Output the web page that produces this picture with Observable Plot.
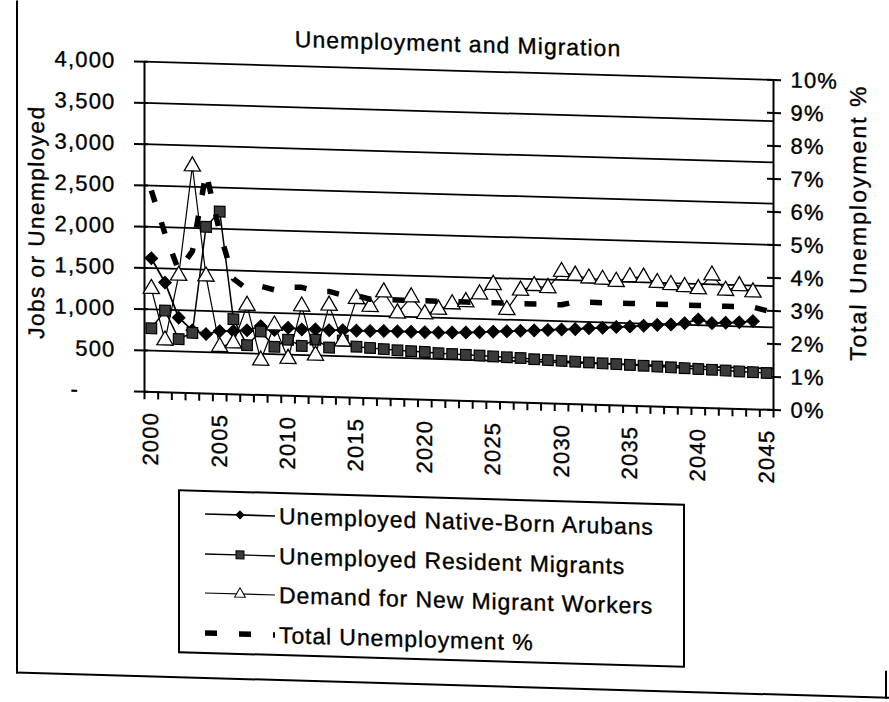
<!DOCTYPE html>
<html>
<head>
<meta charset="utf-8">
<script src="https://cdn.jsdelivr.net/npm/d3@7"></script>
<script src="https://cdn.jsdelivr.net/npm/@observablehq/plot@0.6"></script>
<style>
  html, body { margin: 0; padding: 0; background: #fff; }
  #page { position: relative; width: 889px; height: 702px; overflow: hidden;
          font-family: "Liberation Sans", Arial, sans-serif; color: #000; background: #fff; }
  #sheet { position: absolute; left: 0; top: 0; width: 889px; height: 702px;
           transform-origin: 0 0; transform: skewY(1.66deg); }
  #chart { position: absolute; left: 0; top: 0; }
  #chart svg text { letter-spacing: 1.2px; stroke: #000; stroke-width: 0.35px; }
  .txt { -webkit-text-stroke: 0.35px #000; }
  .title { position: absolute; left: 458px; top: 31px; transform: translate(-50%, -50%);
           font-size: 23px; letter-spacing: 1px; white-space: nowrap; }
  .ytitle { position: absolute; white-space: nowrap; transform: translate(-50%, -50%) rotate(-90deg); }
  #ylab { left: 37px; top: 221px; font-size: 22.5px; letter-spacing: 1.5px; }
  #y2lab { left: 858px; top: 198px; font-size: 23px; letter-spacing: 2px; }
  #legend { position: absolute; left: 178px; top: 484px; width: 507px; height: 164px;
            box-sizing: border-box; border: 2px solid #000; background: #fff; }
  .lrow { position: absolute; left: 0; height: 30px; display: flex; align-items: center; }
  .lrow svg { margin-left: 23px; }
  .lrow span { margin-left: 4px; font-size: 23px; letter-spacing: 0.9px; white-space: nowrap; }
  .frame { position: absolute; background: #000; }
</style>
</head>
<body>
<div id="page">
  <div id="sheet">
    <div class="frame" style="left:16px;top:0;width:2px;height:673px;"></div>
    <div class="frame" style="left:16px;top:671px;width:880px;height:2px;"></div>
    <div class="frame" style="left:885px;top:645px;width:1.5px;height:28px;"></div>
    <div id="chart"></div>
    <div class="title txt">Unemployment and Migration</div>
    <div class="ytitle txt" id="ylab">Jobs or Unemployed</div>
    <div class="ytitle txt" id="y2lab">Total Unemployment %</div>
    <div id="legend"></div>
  </div>
</div>
<script>
// ---------------- data ----------------
const years = d3.range(2000, 2046);            // 2000 … 2045
const labelYears = d3.range(2000, 2046, 5);     // x tick labels
const yTicks = d3.range(0, 4001, 500);          // left axis: jobs or unemployed
const pctTicks = d3.range(0, 11);               // right axis: 0% … 10%

const seriesNames = [
  "Unemployed Native-Born Arubans",
  "Unemployed Resident Migrants",
  "Demand for New Migrant Workers",
  "Total Unemployment %"
];

// Unemployed Native-Born Arubans, 2000–2044
const nativeBorn = [1620,1330,910,760,720,760,765,780,835,795,
                    825,810,815,810,815,815,815,820,820,820,
                    820,820,825,830,840,850,860,870,880,890,
                    900,910,925,935,950,960,975,990,1000,1020,
                    1070,1030,1040,1050,1070];
// Unemployed Resident Migrants, 2000–2045
const residentMigrants = [770,990,650,730,2020,2210,910,600,770,590,
                          680,610,690,600,690,620,610,600,590,585,
                          580,570,565,560,555,550,545,540,530,525,
                          520,515,510,505,500,495,490,485,480,475,
                          470,465,460,455,450,445];
// Demand for New Migrant Workers, 2000–2044
const demandNew = [1250,630,1420,2750,1420,570,620,1080,420,850,
                   450,1090,500,1110,680,1200,1110,1290,1040,1240,
                   1040,1100,1170,1200,1300,1420,1120,1360,1420,1400,
                   1600,1560,1530,1520,1500,1560,1560,1500,1480,1460,
                   1440,1610,1430,1490,1420];
// Total Unemployment % (right axis), 2000–2045
const totalPct = [6.1,4.8,3.7,4.3,6.7,4.9,3.5,3.2,3.3,3.2,
                  3.3,3.3,3.2,3.2,3.1,3.1,3.0,3.0,3.0,3.0,
                  3.0,3.0,3.0,3.0,3.0,3.0,3.0,3.0,3.0,3.0,
                  3.0,3.1,3.1,3.1,3.1,3.1,3.1,3.1,3.1,3.1,
                  3.1,3.1,3.1,3.1,3.1,3.0];

// right axis shares the frame: 10% ↔ 4,000
const pctScale = 4000 / 10;
const toRows = vals => vals.map((v, i) => ({year: years[i], value: v}));
const nativeRows = toRows(nativeBorn);
const migrantRows = toRows(residentMigrants);
const demandRows = toRows(demandNew);
const totalRows = totalPct.map((p, i) => ({year: years[i], value: p * pctScale, pct: p}));

const fmtLeft = d => d === 0 ? "-\u00a0\u00a0\u00a0\u00a0\u00a0" : d3.format(",")(d);

const chart = Plot.plot({
  width: 889,
  height: 480,
  marginLeft: 144,
  marginRight: 116,
  marginTop: 57,
  marginBottom: 93,
  x: {domain: [years[0] - 0.5, years[years.length - 1] + 0.5]},
  y: {domain: [0, 4000]},
  style: {fontFamily: "Liberation Sans, Arial, sans-serif", fontSize: "22px", color: "#000", background: "transparent", overflow: "visible"},
  marks: [
    // gridlines and frame
    Plot.ruleY(yTicks.slice(1), {stroke: "#000", strokeWidth: 1.8}),
    Plot.ruleY([0], {stroke: "#000", strokeWidth: 2}),
    Plot.ruleX([years[0] - 0.5], {stroke: "#000", strokeWidth: 2}),
    Plot.ruleX([years[years.length - 1] + 0.5], {stroke: "#000", strokeWidth: 2}),
    // left axis
    Plot.axisY({ticks: yTicks, tickSize: 14, dx: 4, tickFormat: () => "", label: null, strokeWidth: 2}),
    Plot.axisY({ticks: yTicks, tickSize: 0, tickPadding: 29, tickFormat: fmtLeft, label: null}),
    // right axis (percent)
    Plot.axisY({anchor: "right", ticks: pctTicks.map(p => p * pctScale), tickSize: 14, dx: -7, tickFormat: () => "", label: null, strokeWidth: 2}),
    Plot.axisY({anchor: "right", ticks: pctTicks.map(p => p * pctScale), tickSize: 0, tickPadding: 17, tickFormat: d => `${Math.round(d / pctScale)}%`, label: null}),
    // x axis: one tick per category boundary, labels every 5 years
    Plot.axisX({ticks: d3.range(years[0] - 0.5, years[years.length - 1] + 1, 1), tickSize: 8, tickFormat: () => "", label: null, strokeWidth: 2}),
    Plot.axisX({ticks: labelYears, tickSize: 0, tickPadding: 20, tickRotate: -90, tickFormat: d => String(d), label: null}),
    // series
    Plot.line(nativeRows, {x: "year", y: "value", stroke: "#000", strokeWidth: 1.8}),
    Plot.dot(nativeRows, {x: "year", y: "value", symbol: "diamond2", r: 5.7, fill: "#000", stroke: "#000", strokeWidth: 1}),
    Plot.line(migrantRows, {x: "year", y: "value", stroke: "#000", strokeWidth: 1.5}),
    Plot.dot(migrantRows, {x: "year", y: "value", symbol: "square", r: 6, fill: "#3a3a3a", stroke: "#000", strokeWidth: 1.2}),
    Plot.line(demandRows, {x: "year", y: "value", stroke: "#000", strokeWidth: 1.2}),
    Plot.dot(demandRows, {x: "year", y: "value", symbol: "triangle", r: 6, fill: "#fff", stroke: "#000", strokeWidth: 1.3}),
    Plot.line(totalRows, {x: "year", y: "value", stroke: "#000", strokeWidth: 5.5, strokeDasharray: "12,21", strokeLinecap: "butt"})
  ]
});
document.getElementById("chart").appendChild(chart);

// ---------------- legend ----------------
const legend = d3.select("#legend");
const rowCenters = [22, 62, 101, 141];
const swatchStyles = [
  {symbol: d3.symbolDiamond2, size: 40, fill: "#000", line: 1.6},
  {symbol: d3.symbolSquare, size: 64, fill: "#3a3a3a", line: 1.4},
  {symbol: d3.symbolTriangle, size: 50, fill: "#fff", line: 1.1},
  {dashed: true}
];
seriesNames.forEach((name, i) => {
  const row = legend.append("div").attr("class", "lrow").style("top", (rowCenters[i] - 15) + "px");
  const svg = row.append("svg").attr("width", 72).attr("height", 30);
  const st = swatchStyles[i];
  if (st.dashed) {
    svg.append("line").attr("x1", 2).attr("x2", 72).attr("y1", 15).attr("y2", 15)
      .attr("stroke", "#000").attr("stroke-width", 5.5).attr("stroke-dasharray", "12,22");
  } else {
    svg.append("line").attr("x1", 2).attr("x2", 72).attr("y1", 15).attr("y2", 15)
      .attr("stroke", "#000").attr("stroke-width", st.line);
    svg.append("path").attr("d", d3.symbol(st.symbol, st.size)())
      .attr("transform", "translate(37,15)")
      .attr("fill", st.fill).attr("stroke", "#000").attr("stroke-width", 1);
  }
  row.append("span").attr("class", "txt").text(name);
});
</script>
</body>
</html>
